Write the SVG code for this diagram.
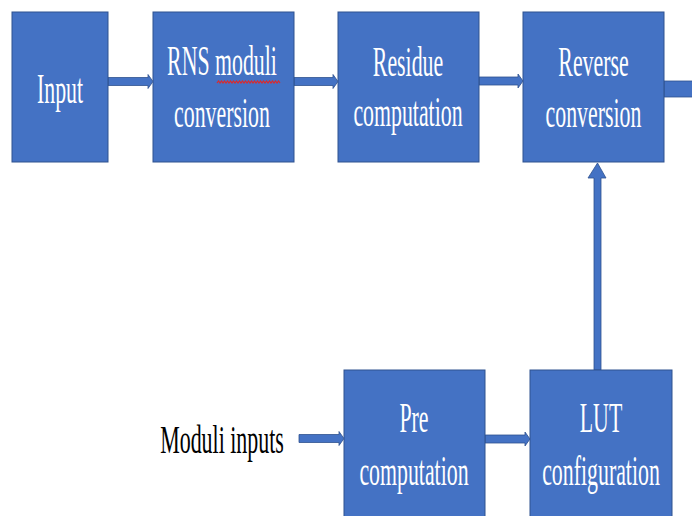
<svg xmlns="http://www.w3.org/2000/svg" width="692" height="516" viewBox="0 0 692 516">
  <style>
    .box { fill: #4472C4; stroke: #2F528F; stroke-width: 1; }
    .arrow { fill: #4472C4; stroke: #2F528F; stroke-width: 0.8; }
    .lbl { font-family: "Liberation Serif", "Times New Roman", serif; font-size: 42px; fill: #FFFFFF; text-anchor: middle; }
    .ext { font-family: "Liberation Serif", "Times New Roman", serif; font-size: 41px; fill: #000000; text-anchor: middle; }
  </style>
  <rect width="692" height="516" fill="#FFFFFF"/>

  <!-- connectors: block arrows between the stages -->
  <g id="connectors">
    <polygon class="arrow" points="108,77.5 148,77.5 148,74.5 153,81.5 148,88.5 148,85.5 108,85.5"/>
    <polygon class="arrow" points="294,77.5 333,77.5 333,74.5 338,81.5 333,88.5 333,85.5 294,85.5"/>
    <polygon class="arrow" points="479,77 518,77 518,74 523,81 518,88 518,85 479,85"/>
    <rect class="arrow" x="664" y="81" width="30" height="16"/>
    <polygon class="arrow" points="594,370 594,178 588,178 597.5,163 606,178 601,178 601,370"/>
    <polygon class="arrow" points="299,434.5 339,434.5 339,431.5 344,438.5 339,445.5 339,442.5 299,442.5"/>
    <polygon class="arrow" points="485,435 525,435 525,432 530,439 525,446 525,443 485,443"/>
  </g>

  <g id="input">
    <rect class="box" x="12" y="12" width="96" height="150"/>
    <g transform="translate(60,0) scale(0.52,1)"><text class="lbl" x="0" y="103">Input</text></g>
  </g>

  <g id="rns-moduli-conversion">
    <rect class="box" x="153" y="12" width="141" height="150"/>
    <g transform="translate(222,0) scale(0.52,1)">
      <text class="lbl" x="0" y="75">RNS moduli</text>
      <text class="lbl" x="0" y="127">conversion</text>
    </g>
    <!-- spell-check squiggle under "moduli" -->
    <path d="M217,83 l1.5,-2 l1.5,2 l1.5,-2 l1.5,2 l1.5,-2 l1.5,2 l1.5,-2 l1.5,2 l1.5,-2 l1.5,2 l1.5,-2 l1.5,2 l1.5,-2 l1.5,2 l1.5,-2 l1.5,2 l1.5,-2 l1.5,2 l1.5,-2 l1.5,2 l1.5,-2 l1.5,2 l1.5,-2 l1.5,2 l1.5,-2 l1.5,2 l1.5,-2 l1.5,2 l1.5,-2 l1.5,2 l1.5,-2 l1.5,2 l1.5,-2 l1.5,2 l1.5,-2 l1.5,2 l1.5,-2 l1.5,2 l1.5,-2 l1.5,2 l1.5,-2 l1.5,2" fill="none" stroke="#E02828" stroke-width="1.2"/>
  </g>

  <g id="residue-computation">
    <rect class="box" x="338" y="12" width="141" height="150"/>
    <g transform="translate(408,0) scale(0.52,1)">
      <text class="lbl" x="0" y="76">Residue</text>
      <text class="lbl" x="0" y="126">computation</text>
    </g>
  </g>

  <g id="reverse-conversion">
    <rect class="box" x="523" y="12" width="141" height="150"/>
    <g transform="translate(593.5,0) scale(0.52,1)">
      <text class="lbl" x="0" y="76">Reverse</text>
      <text class="lbl" x="0" y="127">conversion</text>
    </g>
  </g>

  <g id="moduli-inputs">
    <g transform="translate(222,0) scale(0.535,1)"><text class="ext" x="0" y="453">Moduli inputs</text></g>
  </g>

  <g id="pre-computation">
    <rect class="box" x="344" y="370" width="141" height="152"/>
    <g transform="translate(414,0) scale(0.52,1)">
      <text class="lbl" x="0" y="432">Pre</text>
      <text class="lbl" x="0" y="485">computation</text>
    </g>
  </g>

  <g id="lut-configuration">
    <rect class="box" x="530" y="370" width="142" height="152"/>
    <g transform="translate(601,0) scale(0.52,1)">
      <text class="lbl" x="0" y="432">LUT</text>
      <text class="lbl" x="0" y="485">configuration</text>
    </g>
  </g>
</svg>
